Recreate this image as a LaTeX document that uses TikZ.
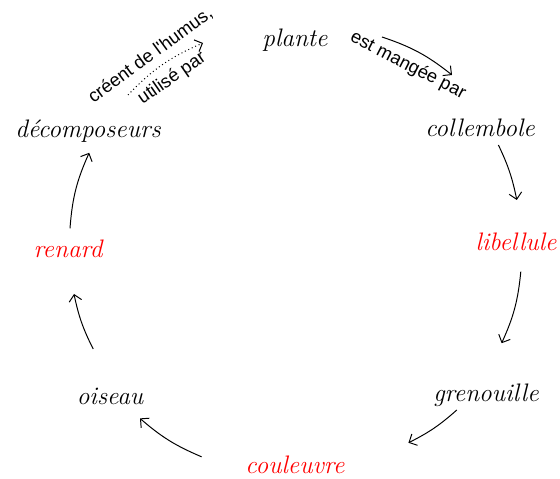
\documentclass[tikz,border=0pt]{standalone}
\usepackage{fontspec}
\newfontfamily\etiqfont{Liberation Sans}
\usetikzlibrary {positioning,arrows.meta}

\begin{document}
\begin{tikzpicture}[auto ,semithick ,
    espece/.style ={font=\fontsize{18}{20}\selectfont\itshape, inner sep=0pt},
    proie/.style ={espece, text=red},
    etiq/.style={font=\etiqfont\fontsize{13}{14}\selectfont, sloped, inner sep=5.5pt},
    fleche/.style={-{Straight Barb[length=4.5pt,width=9pt]}, line width=0.7pt}
    ]
\useasboundingbox (0,0) rectangle (14,11.95);

% les especes
\node[espece] (plante) at (7.375,10.95) {plante};
\node[espece] (coll) at (12.0,8.75) {collembole};
\node[proie] (lib) at (12.9,5.9) {libellule};
\node[espece] (gren) at (12.15,2.075) {grenouille};
\node[proie] (coul) at (7.375,0.33) {couleuvre};
\node[espece] (ois) at (2.75,2.05) {oiseau};
\node[proie] (ren) at (1.7,5.725) {renard};
\node[espece] (dec) at (2.2,8.675) {décomposeurs};

% bouts des fleches
\coordinate (a1) at (9.55,11.025);  \coordinate (b1) at (11.3,10.075);
\coordinate (a2) at (12.46,8.325);  \coordinate (b2) at (12.92,6.95);
\coordinate (a3) at (13.02,5.16);   \coordinate (b3) at (12.54,3.37);
\coordinate (a4) at (11.42,1.7);    \coordinate (b4) at (10.21,0.88);
\coordinate (a5) at (5.04,0.53);    \coordinate (b5) at (3.5,1.49);
\coordinate (a6) at (2.33,3.225);   \coordinate (b6) at (1.85,4.6);
\coordinate (a7) at (1.75,6.24);    \coordinate (b7) at (2.23,8.13);
\coordinate (a8) at (3.2,9.575);    \coordinate (b8) at (5.075,10.875);

\draw[fleche] (a1) to[bend left=10] node[etiq, below, pos=0.45] (mange) {est mangée par} (b1);
\draw[fleche] (a2) to[bend left=7] (b2);
\draw[fleche] (a3) to[bend left=9.5] (b3);
\draw[fleche] (a4) to[bend left=7.5] (b4);
\draw[fleche] (a5) to[bend left=9] (b5);
\draw[fleche] (a6) to[bend left=7.5] (b6);
\draw[fleche] (a7) to[bend left=10] (b7);
\draw[fleche, dotted] (a8) to[bend left=11.5]
  node[etiq, above, pos=0.45, inner sep=4.5pt] (humus) {créent de l'humus,}
  node[etiq, below, pos=0.5] (util) {utilisé par} (b8);
\end{tikzpicture}
\end{document}
